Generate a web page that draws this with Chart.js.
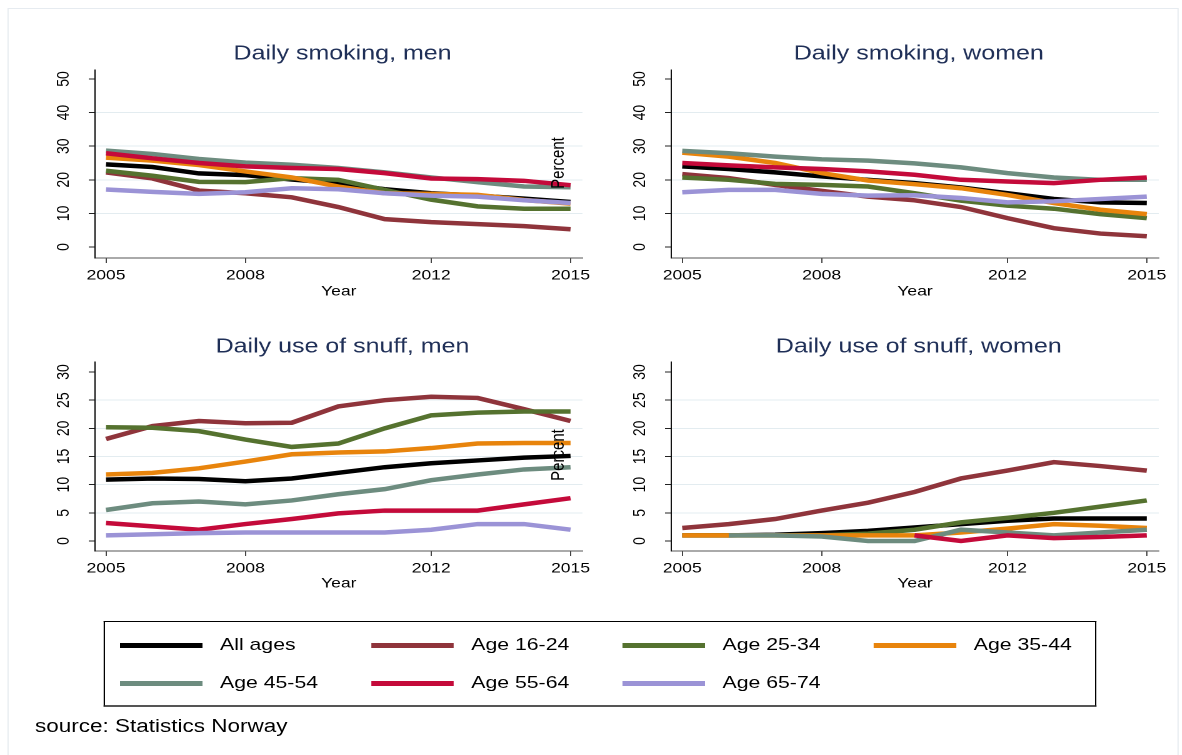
<!DOCTYPE html>
<html>
<head>
<meta charset="utf-8">
<script src="https://cdn.jsdelivr.net/npm/chart.js@4.4.1/dist/chart.umd.min.js"></script>
<style>
  html, body { margin: 0; padding: 0; background: #fff; }
  body { width: 1182px; height: 755px; overflow: hidden; font-family: "Liberation Sans", Arial, sans-serif; }
  /* the whole figure is laid out narrow and stretched sideways */
  #fig { position: absolute; left: 0; top: 0; width: 946px; height: 755px; transform: scaleX(1.25); transform-origin: 0 0; }
  #frame { position: absolute; left: 6px; top: 8px; width: 935px; height: 800px; border: 1px solid #e6ebf0; }
  canvas { position: absolute; }
  #legend { position: absolute; left: 83px; top: 621px; width: 792px; height: 83px; border: 1px solid #000; border-bottom: 2px solid #555; }
  .item { position: absolute; height: 20px; }
  .swatch { position: absolute; left: 0; top: 8px; width: 66px; height: 5px; }
  .label { position: absolute; left: 80px; top: 0; font-size: 17px; line-height: 20px; white-space: nowrap; color: #000; }
  #source { position: absolute; left: 28px; top: 716px; font-size: 18px; color: #000; white-space: nowrap; }
</style>
</head>
<body>
<div id="fig">
  <div id="frame"></div>
  <canvas id="smokeMen" width="473" height="300" style="left:0px;top:0px;width:473px;height:300px"></canvas>
  <canvas id="smokeWomen" width="473" height="300" style="left:461px;top:0px;width:473px;height:300px"></canvas>
  <canvas id="snuffMen" width="473" height="300" style="left:0px;top:292px;width:473px;height:300px"></canvas>
  <canvas id="snuffWomen" width="473" height="300" style="left:461px;top:292px;width:473px;height:300px"></canvas>
  <div id="legend"></div>
  <div id="source">source: Statistics Norway</div>
</div>
<script>
const YEARS = [2005, 2006, 2007, 2008, 2009, 2010, 2011, 2012, 2013, 2014, 2015];
const GROUPS = ['All ages', 'Age 16-24', 'Age 25-34', 'Age 35-44', 'Age 45-54', 'Age 55-64', 'Age 65-74'];
const X_TICKS = [2005, 2008, 2012, 2015];
const Y_TICKS_SMOKING = [0, 10, 20, 30, 40, 50];
const Y_TICKS_SNUFF = [0, 5, 10, 15, 20, 25, 30];

// rows follow GROUPS, columns follow YEARS (percent)
const SMOKING_MEN = [
  [24.6, 23.8, 21.9, 21.4, 20.1, 19.0, 17.2, 16.0, 15.3, 14.4, 13.4],
  [22.2, 20.4, 16.8, 16.0, 14.8, 11.9, 8.3, 7.4, 6.8, 6.2, 5.3],
  [22.7, 21.2, 19.4, 19.3, 20.5, 20.0, 17.0, 14.1, 12.1, 11.4, 11.4],
  [26.6, 25.7, 24.4, 22.5, 20.7, 18.0, 16.0, 15.8, 15.5, 14.0, 12.9],
  [28.7, 27.7, 26.2, 25.1, 24.5, 23.5, 22.2, 20.7, 19.3, 18.0, 17.8],
  [27.9, 26.4, 25.0, 24.0, 23.5, 23.2, 22.0, 20.4, 20.2, 19.7, 18.4],
  [17.1, 16.4, 15.8, 16.3, 17.5, 17.2, 16.0, 15.3, 15.0, 13.9, 13.1]
];
const SMOKING_WOMEN = [
  [24.0, 23.2, 22.2, 21.0, 20.0, 19.0, 17.7, 16.0, 14.3, 13.3, 13.1],
  [21.7, 20.5, 18.5, 16.7, 15.0, 13.9, 11.9, 8.6, 5.6, 4.0, 3.2],
  [20.7, 20.0, 18.8, 18.5, 18.0, 16.0, 13.8, 12.3, 11.4, 9.8, 8.6],
  [28.1, 26.9, 25.0, 22.0, 19.8, 18.7, 17.5, 15.5, 13.1, 11.1, 9.8],
  [28.6, 27.9, 26.9, 26.1, 25.7, 24.9, 23.7, 22.0, 20.7, 20.0, 20.0],
  [25.0, 24.3, 23.7, 23.2, 22.5, 21.5, 20.0, 19.5, 19.0, 20.0, 20.7],
  [16.3, 17.0, 17.0, 15.8, 15.3, 15.4, 14.6, 13.3, 13.6, 14.3, 15.0]
];
const SNUFF_MEN = [
  [10.9, 11.1, 11.0, 10.6, 11.1, 12.1, 13.1, 13.8, 14.3, 14.8, 15.1],
  [18.1, 20.4, 21.3, 20.9, 21.0, 23.9, 25.0, 25.6, 25.4, 23.4, 21.3],
  [20.2, 20.1, 19.5, 18.0, 16.7, 17.3, 20.0, 22.3, 22.8, 23.0, 23.0],
  [11.8, 12.1, 12.9, 14.1, 15.4, 15.7, 15.9, 16.5, 17.3, 17.4, 17.4],
  [5.5, 6.7, 7.0, 6.5, 7.2, 8.3, 9.2, 10.8, 11.8, 12.7, 13.1],
  [3.2, 2.6, 2.0, 3.0, 3.9, 4.9, 5.4, 5.4, 5.4, 6.5, 7.6],
  [1.0, 1.2, 1.4, 1.5, 1.5, 1.5, 1.5, 2.0, 3.0, 3.0, 2.0]
];
const SNUFF_WOMEN = [
  [1.0, 1.0, 1.1, 1.4, 1.8, 2.4, 3.0, 3.6, 4.0, 4.0, 4.0],
  [2.3, 3.0, 3.9, 5.4, 6.8, 8.7, 11.1, 12.5, 14.0, 13.3, 12.5],
  [1.0, 1.0, 1.0, 1.0, 1.3, 2.0, 3.3, 4.1, 5.0, 6.1, 7.2],
  [1.0, 1.0, 1.0, 1.0, 1.0, 1.0, 1.5, 2.2, 3.0, 2.7, 2.3],
  [null, 1.0, 1.0, 0.8, 0.0, 0.0, 2.0, 1.5, 1.0, 1.5, 2.0],
  [null, null, null, null, null, 1.0, 0.0, 1.0, 0.5, 0.7, 1.0],
  [null, null, null, null, null, null, null, null, null, null, null]
];

const COLORS = ['#000000', '#8f343b', '#55722f', '#e8840c', '#6d8c7f', '#c40a3a', '#9b93d6'];
const FONT = '"Liberation Sans", Arial, sans-serif';

// panel title above the plot, plus the stray "Percent" axis title
const panelText = {
  id: 'panelText',
  afterDraw(chart, args, opts) {
    const { ctx, chartArea: a } = chart;
    ctx.save();
    ctx.fillStyle = '#1f2f57';
    ctx.font = '20px ' + FONT;
    ctx.textAlign = 'center';
    ctx.textBaseline = 'middle';
    ctx.fillText(opts.title, (a.left + a.right) / 2 + 3, a.top - opts.titleGap);
    if (opts.ytitle) {
      ctx.translate(a.right - 19, a.top + 93);
      ctx.rotate(-Math.PI / 2);
      ctx.fillStyle = '#000';
      ctx.font = '15px ' + FONT;
      ctx.fillText(opts.ytitle, 0, 0);
    }
    ctx.restore();
  }
};

function makePanel(id, title, rows, yTicks, yMin, yMax, ytitle, xHeight, titleGap) {
  const top = yTicks[yTicks.length - 1];
  new Chart(document.getElementById(id), {
    type: 'line',
    data: {
      datasets: rows.map((row, i) => ({
        label: GROUPS[i],
        data: YEARS.map((yr, j) => ({ x: yr, y: row[j] })),
        borderColor: COLORS[i],
        backgroundColor: COLORS[i],
        borderWidth: 4.5,
        pointRadius: 0,
        tension: 0,
        spanGaps: false,
        order: GROUPS.length - i
      }))
    },
    options: {
      responsive: false,
      animation: false,
      devicePixelRatio: 2,
      layout: { padding: { left: 0, right: 7, top: 70, bottom: 0 } },
      plugins: {
        legend: { display: false },
        tooltip: { enabled: false },
        panelText: { title: title, ytitle: ytitle, titleGap: titleGap }
      },
      scales: {
        x: {
          type: 'linear',
          min: 2004.763,
          max: 2015.258,
          afterBuildTicks: s => { s.ticks = X_TICKS.map(v => ({ value: v })); },
          afterFit: s => { s.height = xHeight; s.paddingLeft = 0; s.paddingRight = 0; },
          ticks: {
            autoSkip: false, maxRotation: 0, minRotation: 0, padding: 4,
            color: '#000', font: { family: FONT, size: 14 },
            callback: v => String(v)
          },
          grid: { drawOnChartArea: false, drawTicks: true, tickLength: 5, tickColor: '#444' },
          border: { color: '#555', width: 1 },
          title: { display: true, text: 'Year', color: '#000', font: { family: FONT, size: 14 }, padding: { top: 0, bottom: 0 } }
        },
        y: {
          min: yMin,
          max: yMax,
          afterBuildTicks: s => { s.ticks = yTicks.map(v => ({ value: v })); },
          afterFit: s => { s.width = 76; s.paddingTop = 0; s.paddingBottom = 0; },
          ticks: {
            minRotation: 90, maxRotation: 90, crossAlign: 'center', padding: 12,
            color: '#000', font: { family: FONT, size: 14 },
            callback: v => String(v)
          },
          grid: {
            tickLength: 5,
            tickColor: '#222',
            lineWidth: 1,
            color: c => (c.tick && c.tick.value > 0 && c.tick.value < top) ? '#e3ecf0' : 'rgba(0,0,0,0)'
          },
          border: { color: '#111', width: 1 }
        }
      }
    },
    plugins: [panelText]
  });
}

makePanel('smokeMen', 'Daily smoking, men', SMOKING_MEN, Y_TICKS_SMOKING, -3.27, 52.68, 'Percent', 42, 16);
makePanel('smokeWomen', 'Daily smoking, women', SMOKING_WOMEN, Y_TICKS_SMOKING, -3.27, 52.68, null, 42, 16);
makePanel('snuffMen', 'Daily use of snuff, men', SNUFF_MEN, Y_TICKS_SNUFF, -1.78, 31.78, 'Percent', 41, 15);
makePanel('snuffWomen', 'Daily use of snuff, women', SNUFF_WOMEN, Y_TICKS_SNUFF, -1.78, 31.78, null, 41, 15);

// shared legend, four columns by two rows
const legend = document.getElementById('legend');
GROUPS.forEach((name, i) => {
  const col = i % 4, row = Math.floor(i / 4);
  const item = document.createElement('div');
  item.className = 'item';
  item.style.left = (12 + col * 201) + 'px';
  item.style.top = (13 + row * 38) + 'px';
  item.innerHTML = '<div class="swatch" style="background:' + COLORS[i] + '"></div><div class="label">' + name + '</div>';
  legend.appendChild(item);
});
</script>
</body>
</html>
